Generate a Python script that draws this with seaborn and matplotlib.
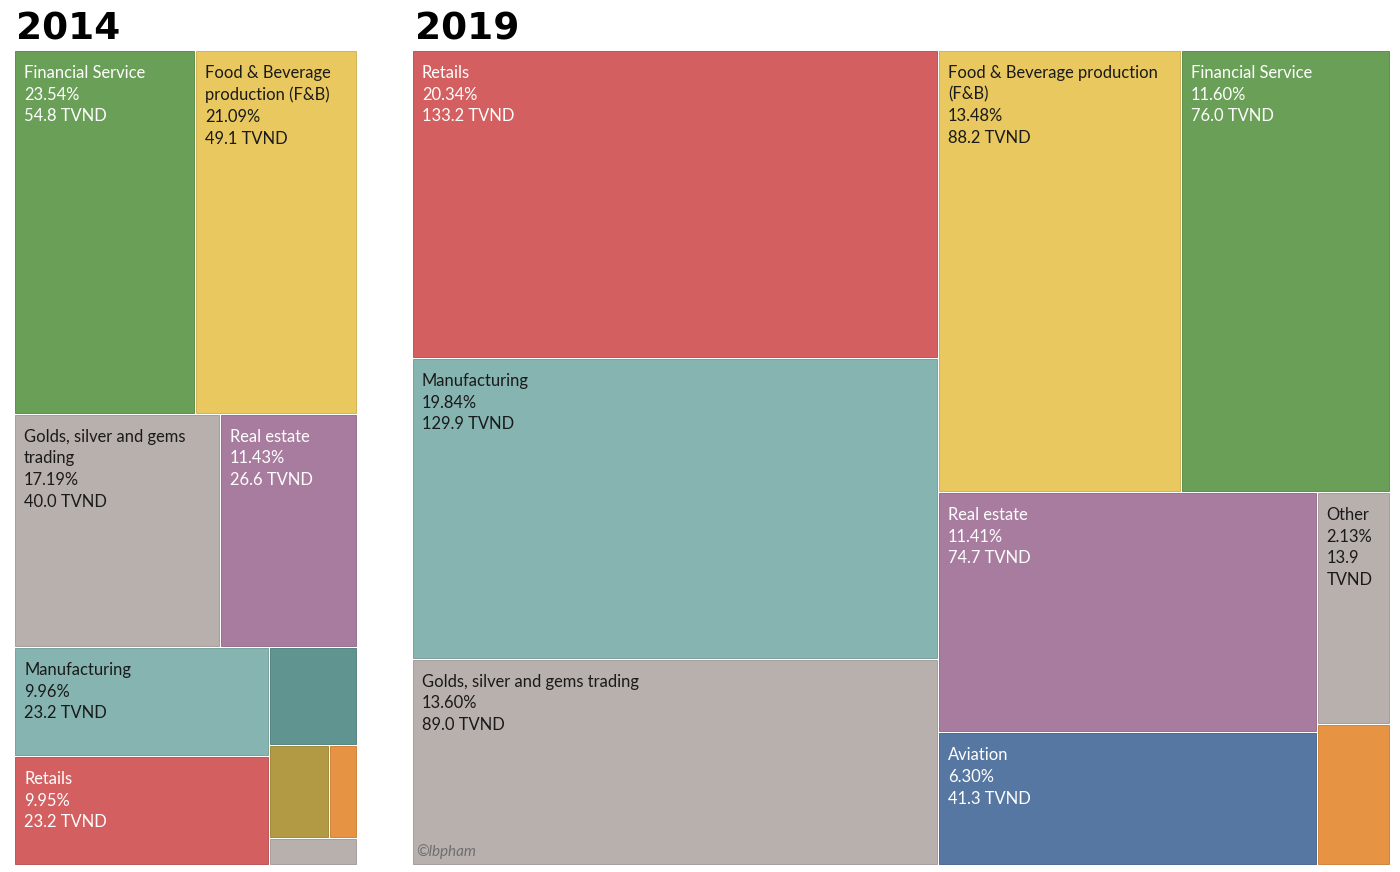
import textwrap
import seaborn as sns
from matplotlib import pyplot as plt
from matplotlib.patches import Rectangle
from matplotlib.colors import to_rgb

sns.set_theme(style="white")
plt.rcParams["font.family"] = ["Lato", "DejaVu Sans"]

# data ---------------------------------------------------------------------
# 2014 (share of total, TVND); the four small unlabeled cells are estimated
cats_2014 = ["Financial Service", "Food & Beverage production (F&B)", "Golds, silver and gems trading",
             "Real estate", "Manufacturing", "Retails", "Small A", "Small B", "Small C", "Other"]
pct_2014 = [23.54, 21.09, 17.19, 11.43, 9.96, 9.95, 3.06, 2.00, 0.93, 0.85]
tvnd_2014 = [54.8, 49.1, 40.0, 26.6, 23.2, 23.2, 7.1, 4.7, 2.2, 2.0]
shown_2014 = [True, True, True, True, True, True, False, False, False, False]

cats_2019 = ["Retails", "Manufacturing", "Golds, silver and gems trading", "Food & Beverage production (F&B)",
             "Financial Service", "Real estate", "Aviation", "Other", "Small C"]
pct_2019 = [20.34, 19.84, 13.60, 13.48, 11.60, 11.41, 6.30, 2.13, 1.30]
tvnd_2019 = [133.2, 129.9, 89.0, 88.2, 76.0, 74.7, 41.3, 13.9, 8.5]
shown_2019 = [True, True, True, True, True, True, True, True, False]

# nesting of the treemap slices (direction alternates at each level)
nest_2014 = [["Financial Service", "Food & Beverage production (F&B)"],
             ["Golds, silver and gems trading", "Real estate"],
             [["Manufacturing", "Retails"], ["Small A", ["Small B", "Small C"], "Other"]]]
nest_2019 = [["Retails", "Manufacturing", "Golds, silver and gems trading"],
             [["Food & Beverage production (F&B)", "Financial Service"],
              [["Real estate", "Aviation"], ["Other", "Small C"]]]]

colors = {
    "Financial Service": "#6a9f58",
    "Food & Beverage production (F&B)": "#e8c85f",
    "Golds, silver and gems trading": "#b8b0ad",
    "Real estate": "#a87c9f",
    "Manufacturing": "#85b4b1",
    "Retails": "#d35f60",
    "Aviation": "#5777a3",
    "Small A": "#5f9491",
    "Small B": "#b29a44",
    "Small C": "#e69343",
    "Other": "#b8b0ad",
}
white_text = {"Financial Service", "Real estate", "Retails", "Aviation"}


def node_total(node, vals):
    if isinstance(node, str):
        return vals[node]
    return sum(node_total(c, vals) for c in node)


def slice_layout(node, vals, x, y, w, h, horiz, out):
    if isinstance(node, str):
        out[node] = (x, y, w, h)
        return
    total = node_total(node, vals)
    pos = 0.0
    for c in node:
        t = node_total(c, vals)
        if horiz:
            slice_layout(c, vals, x + w * pos / total, y, w * t / total, h, not horiz, out)
        else:
            slice_layout(c, vals, x, y + h * pos / total, w, h * t / total, not horiz, out)
        pos += t


def draw_treemap(ax, cats, pct, tvnd, shown, nest, horiz, px_w, px_h):
    vals = dict(zip(cats, pct))
    rects = {}
    slice_layout(nest, vals, 0, 0, 1, 1, horiz, rects)
    gx, gy = 1.0 / px_w, 1.0 / px_h
    for name, p, t, s in zip(cats, pct, tvnd, shown):
        x, y, w, h = rects[name]
        c = colors[name]
        edge = tuple(v * 0.9 for v in to_rgb(c))
        ax.add_patch(Rectangle((x + gx, y + gy), w - 2 * gx, h - 2 * gy,
                               facecolor=c, edgecolor=edge, lw=0.7))
        if not s:
            continue
        nchar = max(5, int((w * px_w - 20) / 7.6))
        lines = textwrap.wrap(name, nchar) + textwrap.wrap(f"{p:.2f}%", nchar) + textwrap.wrap(f"{t:.1f} TVND", nchar)
        ax.text(x + 10 * gx, y + 15 * gy, "\n".join(lines), ha="left", va="top",
                fontsize=11.9, linespacing=1.43,
                color="white" if name in white_text else "#1a1a1a")
    ax.set_xlim(0, 1)
    ax.set_ylim(1, 0)
    ax.set_axis_off()


fig = plt.figure(figsize=(14, 8.72), dpi=100)
W, H = 1400, 872

ax1 = fig.add_axes([14 / W, 7 / H, 343 / W, 815 / H])
draw_treemap(ax1, cats_2014, pct_2014, tvnd_2014, shown_2014, nest_2014, False, 343, 815)

ax2 = fig.add_axes([412 / W, 7 / H, 978 / W, 815 / H])
draw_treemap(ax2, cats_2019, pct_2019, tvnd_2019, shown_2019, nest_2019, True, 978, 815)

title_font = ["DejaVu Sans"]
fig.text(16 / W, 1 - 39 / H, "2014", fontsize=27, fontweight="bold", family=title_font,
         color="black", ha="left", va="baseline")
fig.text(415 / W, 1 - 39 / H, "2019", fontsize=27, fontweight="bold", family=title_font,
         color="black", ha="left", va="baseline")
ax2.text(4 / 978, 1 - 6 / 815, "©lbpham", fontsize=11, style="italic", color="#6f6f6f", ha="left", va="bottom")

fig.savefig("out.png", dpi=100)
